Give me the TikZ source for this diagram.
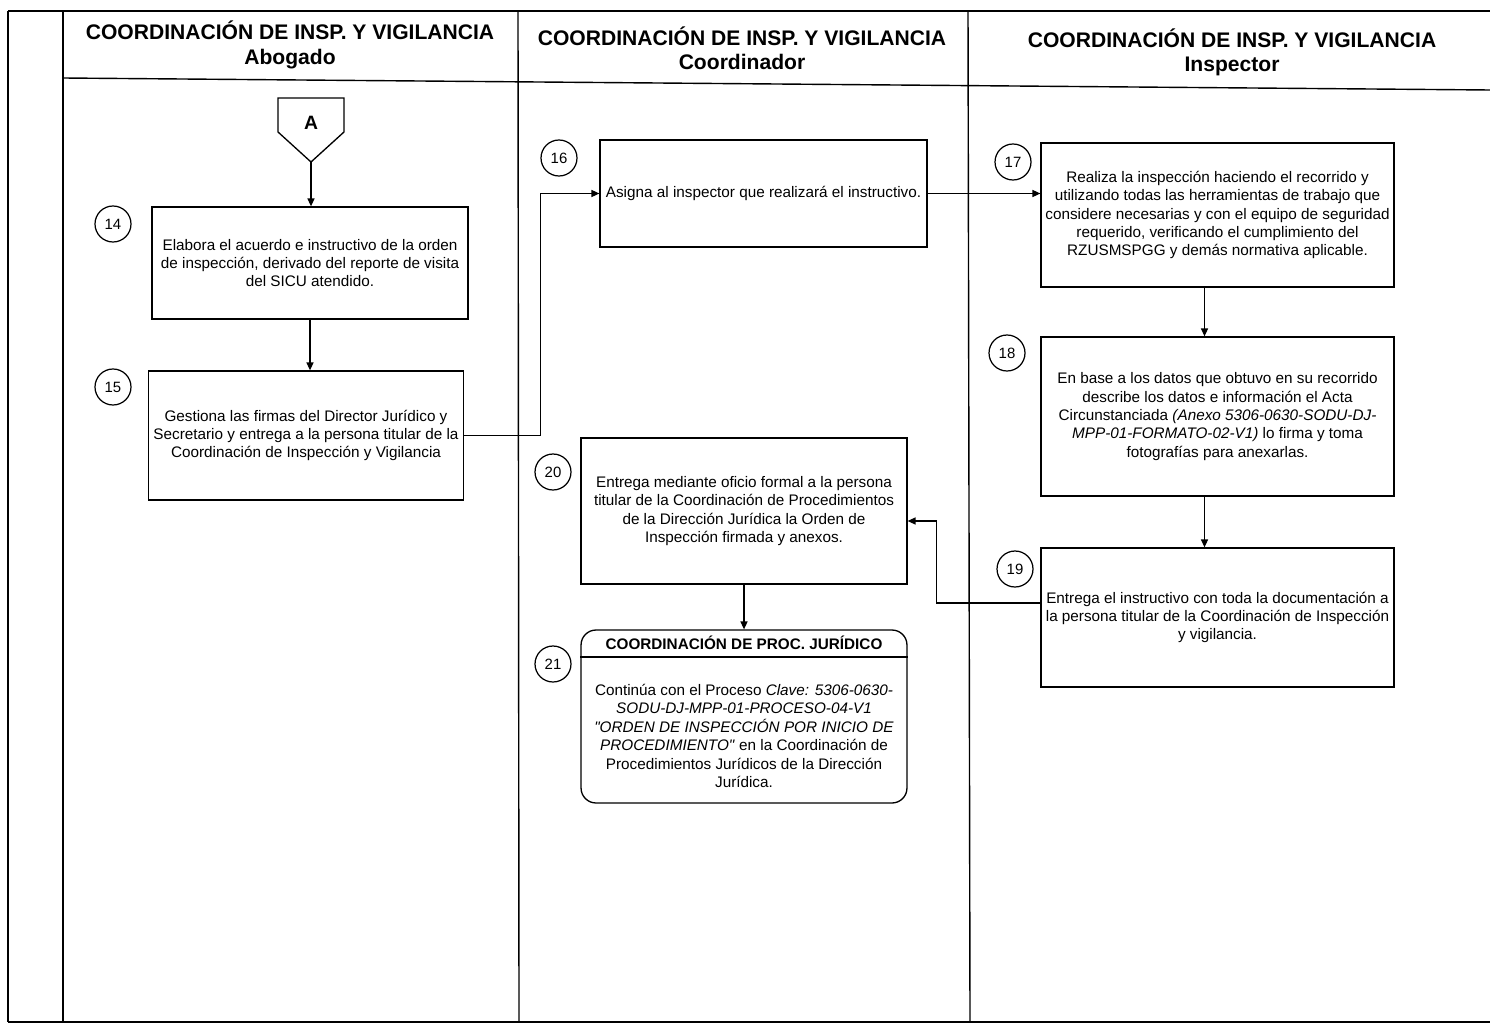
\documentclass[tikz,border=0pt]{standalone}
\usepackage{fontspec}
\setmainfont{Liberation Sans}
\usetikzlibrary{arrows.meta}
\begin{document}
\begin{tikzpicture}[x=0.02cm,y=-0.02cm,
  frame/.style={line width=0.8pt},
  procbox/.style={draw, line width=0.75pt, align=center, inner sep=2pt,
    font=\fontsize{8.7}{10.5}\selectfont},
  num/.style={circle, draw, line width=0.7pt, minimum size=0.72cm, inner sep=0pt,
    font=\fontsize{8.5}{10}\selectfont},
  hdr/.style={align=center, font=\fontsize{12}{13.8}\selectfont\bfseries},
  arr/.style={-{Triangle[length=4.5pt,width=4pt]}, line width=0.7pt}]
\fill[white] (0,0) rectangle (1490,1027);
\useasboundingbox (0,0) rectangle (1490,1027);
% frame
\draw[frame] (8,11) -- (1490,11);
\draw[frame] (8,11) -- (8,1022);
\draw[frame] (63,11) -- (63,1022);
\draw[frame] (518,11) -- (519,1022);
\draw[frame] (968,11) -- (970,1022);
\draw[frame] (63,78) -- (1490,90);
\draw[frame] (8,1022) -- (1490,1022);
% headers
\node[hdr] (h1) at (290,45) {COORDINACIÓN DE INSP. Y VIGILANCIA\\Abogado};
\node[hdr] (h2) at (742,48.5) {COORDINACIÓN DE INSP. Y VIGILANCIA\\Coordinador};
\node[hdr] (h3) at (1232,52.5) {COORDINACIÓN DE INSP. Y VIGILANCIA\\Inspector};
% off-page connector A
\draw[line width=0.75pt] (278,98) -- (344,98) -- (344,132) -- (311,162) -- (278,132) -- cycle;
\node[font=\fontsize{11}{13}\selectfont\bfseries] (A) at (311,123) {A};
\coordinate (Atip) at (311,162);
% boxes
\node[procbox, minimum width=6.32cm, minimum height=2.24cm] (b14) at (310,263)
  {Elabora el acuerdo e instructivo de la orden\\de inspección, derivado del reporte de visita\\del SICU atendido.};
\node[procbox, minimum width=6.3cm, minimum height=2.58cm] (b15) at (306,435.5)
  {Gestiona las firmas del Director Jurídico y\\Secretario y entrega a la persona titular de la\\Coordinación de Inspección y Vigilancia};
\node[procbox, minimum width=6.54cm, minimum height=2.14cm] (b16) at (763.5,193.5)
  {Asigna al inspector que realizará el instructivo.};
\node[procbox, minimum width=7.06cm, minimum height=2.88cm] (b17) at (1217.5,215)
  {Realiza la inspección haciendo el recorrido y\\utilizando todas las herramientas de trabajo que\\considere necesarias y con el equipo de seguridad\\requerido, verificando el cumplimiento del\\RZUSMSPGG y demás normativa aplicable.};
\node[procbox, minimum width=7.06cm, minimum height=3.18cm] (b18) at (1217.5,416.5)
  {En base a los datos que obtuvo en su recorrido\\describe los datos e información el Acta\\Circunstanciada \textit{(Anexo 5306-0630-SODU-DJ-}\\\textit{MPP-01-FORMATO-02-V1)} lo firma y toma\\fotografías para anexarlas.};
\node[procbox, minimum width=7.06cm, minimum height=2.78cm] (b19) at (1217.5,617.5)
  {Entrega el instructivo con toda la documentación a\\la persona titular de la Coordinación de Inspección\\y vigilancia.};
\node[procbox, minimum width=6.52cm, minimum height=2.92cm] (b20) at (744,511)
  {Entrega mediante oficio formal a la persona\\titular de la Coordinación de Procedimientos\\de la Dirección Jurídica la Orden de\\Inspección firmada y anexos.};
\node[draw, line width=0.75pt, rounded corners=0.3cm, minimum width=6.52cm, minimum height=3.46cm] (b21) at (744,716.5) {};
\node[font=\fontsize{8.7}{10.5}\selectfont\bfseries] (b21h) at (744,643) {COORDINACIÓN DE PROC. JURÍDICO};
\draw[line width=0.75pt] (b21.west |- 0,657) -- (b21.east |- 0,657);
\node[align=center, font=\fontsize{8.7}{10.5}\selectfont] (b21t) at (744,736)
  {Continúa con el Proceso \textit{Clave: 5306-0630-}\\\textit{SODU-DJ-MPP-01-PROCESO-04-V1}\\\textit{\textquotedbl ORDEN DE INSPECCIÓN POR INICIO DE}\\\textit{PROCEDIMIENTO\textquotedbl} en la Coordinación de\\Procedimientos Jurídicos de la Dirección\\Jurídica.};
% numbers
\node[num] (c14) at (113,224) {14};
\node[num] (c15) at (113,387) {15};
\node[num] (c16) at (559,158) {16};
\node[num] (c17) at (1013,162) {17};
\node[num] (c18) at (1007,353) {18};
\node[num] (c19) at (1015,569) {19};
\node[num] (c20) at (553,472) {20};
\node[num] (c21) at (553,664) {21};
% connectors
\draw[arr] (Atip) -- (Atip |- b14.north);
\draw[arr] (b14.south) -- (b14.south |- b15.north);
\draw[arr] (b15.east) -- ++(76,0) |- (b16.west);
\draw[arr] (b16.east) -- (b16.east -| b17.west);
\draw[arr] ([xshift=-0.26cm]b17.south) -- ([xshift=-0.26cm]b18.north);
\draw[arr] ([xshift=-0.26cm]b18.south) -- ([xshift=-0.26cm]b19.north);
\draw[arr] ([yshift=0.29cm]b19.west) -- ++(-104,0) |- ([yshift=-0.2cm]b20.east);
\draw[arr] (b20.south) -- (b21.north);
\end{tikzpicture}
\end{document}
